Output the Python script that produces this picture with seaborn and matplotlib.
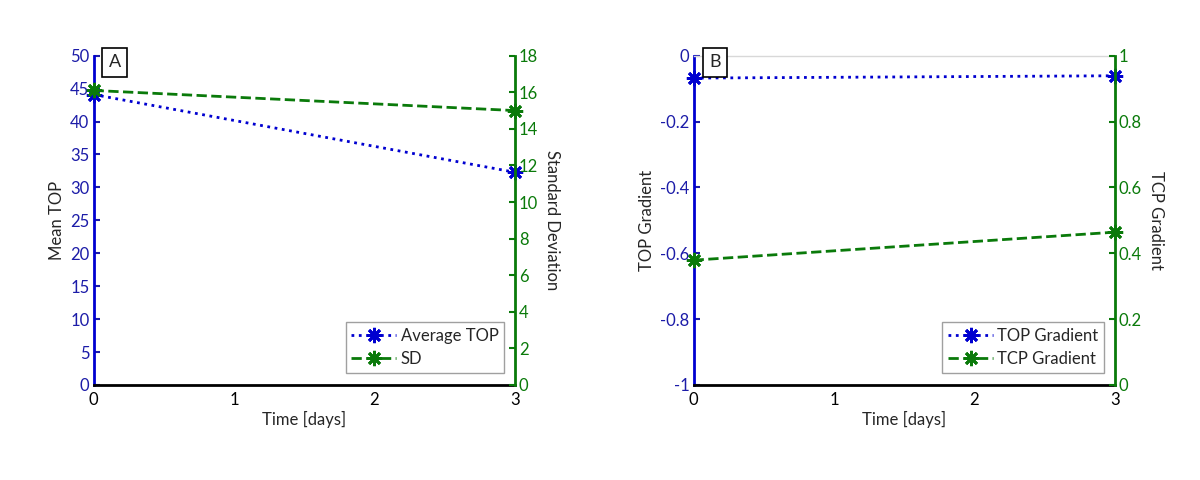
import matplotlib
matplotlib.use('Agg')
import matplotlib.pyplot as plt
import seaborn as sns
import pandas as pd

days = [0, 3]
average_top = [44.1, 32.3]
sd = [16.1, 15.0]
top_gradient = [-0.068, -0.061]
tcp_gradient = [0.379, 0.464]

BLUE = '#0000d0'
BLUE_TXT = '#1c1ca8'
GREEN = '#0a7a0a'

sns.set_style('white')
plt.rcParams['font.family'] = ['Lato', 'DejaVu Sans']
plt.rcParams['font.size'] = 12


def panel(ax, left_y, right_y, left_label, right_label, left_lim, right_lim,
          left_ticks, right_ticks, names, letter, top_line=False):
    df = pd.DataFrame({'t': days, 'left': left_y, 'right': right_y})
    ax2 = ax.twinx()
    sns.lineplot(data=df, x='t', y='left', ax=ax, color=BLUE, linestyle=':', linewidth=2,
                 marker=(8, 2, 0), markersize=11, markeredgewidth=2, markeredgecolor=BLUE,
                 label=names[0], legend=False)
    sns.lineplot(data=df, x='t', y='right', ax=ax2, color=GREEN, linestyle='--', linewidth=2,
                 marker=(8, 2, 0), markersize=11, markeredgewidth=2, markeredgecolor=GREEN,
                 label=names[1], legend=False)
    for a in (ax, ax2):
        for ln in a.lines:
            ln.set_clip_on(False)
            ln.set_zorder(5)
    ax.set_xlim(0, 3)
    ax.set_xticks([0, 1, 2, 3])
    ax.set_ylim(*left_lim)
    ax.set_yticks(left_ticks)
    ax2.set_ylim(*right_lim)
    ax2.set_yticks(right_ticks)
    ax.set_xlabel('Time [days]', labelpad=2)
    ax.set_ylabel(left_label, labelpad=4)
    ax2.set_ylabel(right_label, rotation=270, labelpad=16)

    for a in (ax, ax2):
        for s in a.spines.values():
            s.set_visible(False)
    ax.spines['left'].set_visible(True)
    ax.spines['left'].set_color(BLUE)
    ax.spines['left'].set_linewidth(2)
    ax.spines['bottom'].set_visible(True)
    ax.spines['bottom'].set_color('black')
    ax.spines['bottom'].set_linewidth(2)
    ax2.spines['right'].set_visible(True)
    ax2.spines['right'].set_color(GREEN)
    ax2.spines['right'].set_linewidth(2)
    if top_line:
        ax.spines['top'].set_visible(True)
        ax.spines['top'].set_color('#d8d8d8')
        ax.spines['top'].set_linewidth(1)

    ax.tick_params(axis='y', direction='in', colors=BLUE_TXT, length=4, width=1.5, pad=3)
    ax.tick_params(axis='x', direction='in', colors='black', length=4, width=1.5, pad=5)
    ax2.tick_params(axis='y', direction='in', colors=GREEN, length=4, width=1.5, pad=3)

    ax.text(0.05, 0.98, letter, transform=ax.transAxes, ha='center', va='center', fontsize=13,
            bbox=dict(boxstyle='square,pad=0.35', facecolor='white', edgecolor='black', linewidth=1.2),
            zorder=10)

    h1, l1 = ax.get_legend_handles_labels()
    h2, l2 = ax2.get_legend_handles_labels()
    leg = ax2.legend(h1 + h2, l1 + l2, loc='lower right', fancybox=False, frameon=True,
                     handlelength=2.7, handletextpad=0.25, borderpad=0.35, labelspacing=0.4,
                     fontsize=12, numpoints=1, bbox_to_anchor=(0.995, 0.012))
    leg.get_frame().set_edgecolor('#888888')
    leg.get_frame().set_linewidth(1)
    return ax2


fig = plt.figure(figsize=(12, 4.8), dpi=100)
ax_a = fig.add_axes([0.078, 0.198, 0.351, 0.686])
ax_b = fig.add_axes([0.578, 0.198, 0.351, 0.686])

panel(ax_a, average_top, sd, 'Mean TOP', 'Standard Deviation', (0, 50), (0, 18),
      range(0, 51, 5), range(0, 19, 2), ['Average TOP', 'SD'], 'A')
ax_b2 = panel(ax_b, top_gradient, tcp_gradient, 'TOP Gradient', 'TCP Gradient', (-1, 0), (0, 1),
              [-1, -0.8, -0.6, -0.4, -0.2, 0], [0, 0.2, 0.4, 0.6, 0.8, 1],
              ['TOP Gradient', 'TCP Gradient'], 'B', top_line=True)
ax_b.set_yticklabels(['-1', '-0.8', '-0.6', '-0.4', '-0.2', '0'])
ax_b2.set_yticklabels(['0', '0.2', '0.4', '0.6', '0.8', '1'])

fig.savefig('out.png', dpi=100)
